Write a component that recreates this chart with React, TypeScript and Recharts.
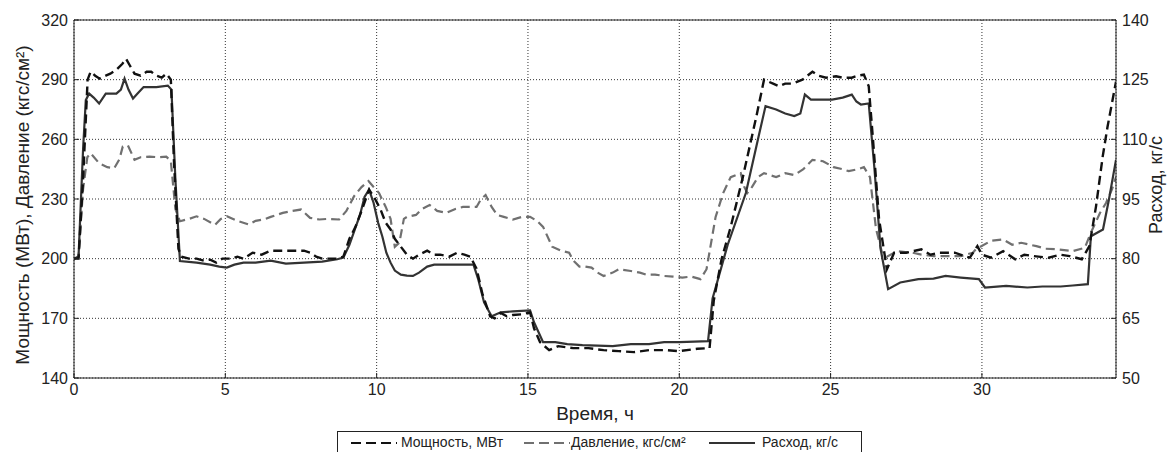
import React from 'react'
import { LineChart, Line, XAxis, YAxis, CartesianGrid, ReferenceLine } from 'recharts'

const timeTicks = [0, 5, 10, 15, 20, 25, 30]
const leftTicks = [140, 170, 200, 230, 260, 290, 320]
const rightTicks = [50, 65, 80, 95, 110, 125, 140]

// [время, ч ; мощность, МВт]
const powerPoints: [number, number][] = [
  [0, 200], [0.15, 200], [0.3, 240], [0.45, 290], [0.55, 294], [0.7, 292], [0.85, 290.5], [1.05, 292],
  [1.2, 293], [1.4, 295], [1.6, 298], [1.72, 300.5], [1.85, 297], [2.0, 293], [2.2, 292], [2.4, 294],
  [2.55, 294], [2.72, 292], [2.9, 291], [3.05, 293], [3.2, 290], [3.3, 250], [3.45, 205], [3.55, 201],
  [3.8, 200], [4.05, 200], [4.3, 199], [4.5, 199.5], [4.7, 198], [4.9, 200], [5.2, 200], [5.4, 201],
  [5.6, 200], [5.9, 203], [6.2, 202], [6.5, 204], [7.0, 204], [7.6, 204], [7.8, 203], [8.0, 201],
  [8.2, 200], [8.7, 200], [8.9, 201], [9.1, 210], [9.3, 216], [9.5, 224], [9.75, 234.7], [9.95, 230],
  [10.13, 224.7], [10.3, 218], [10.46, 214.7], [10.6, 210], [10.8, 206], [11.0, 202], [11.2, 200],
  [11.4, 202], [11.67, 204], [11.9, 202], [12.1, 202], [12.4, 201], [12.66, 203], [12.9, 202],
  [13.1, 201], [13.3, 195], [13.5, 182], [13.75, 171], [13.9, 170], [14.1, 172.7], [14.3, 171],
  [14.5, 171.7], [14.8, 172], [15.07, 173], [15.2, 165], [15.4, 158], [15.7, 154], [16.0, 156],
  [16.5, 155], [17.0, 155], [17.5, 154], [18.0, 153.5], [18.5, 153], [19.0, 154], [19.6, 154],
  [20.0, 153.5], [20.6, 154.7], [21.0, 155], [21.14, 179], [21.4, 200], [21.7, 216], [22.1, 241],
  [22.55, 271.7], [22.8, 290], [23.1, 288], [23.3, 286.7], [23.5, 288], [23.74, 288], [24.07, 290],
  [24.4, 294], [24.6, 292], [24.85, 291], [25.18, 291.7], [25.4, 291], [25.7, 291], [25.9, 292],
  [26.1, 292.5], [26.26, 286.7], [26.4, 260], [26.6, 220], [26.86, 194.7], [27.1, 203], [27.5, 203],
  [28.0, 204.7], [28.3, 202], [28.6, 203], [29.1, 203], [29.6, 200.5], [29.85, 206.3], [30.0, 202],
  [30.3, 200.5], [30.7, 203.8], [31.1, 199.7], [31.4, 202], [31.7, 201.3], [32.2, 200.5], [32.6, 202],
  [32.9, 201.3], [33.3, 199.7], [33.55, 206.3], [33.77, 226.3], [33.99, 251.3], [34.15, 266.3],
  [34.43, 289],
]

// [время, ч ; давление, кгс/см2]
const pressurePoints: [number, number][] = [
  [0, 200], [0.15, 201], [0.3, 235], [0.44, 251], [0.55, 253], [0.83, 248], [1.1, 246], [1.33, 245.5],
  [1.5, 250], [1.61, 256.3], [1.78, 257], [2.0, 249.7], [2.2, 251], [2.5, 251.3], [2.8, 251],
  [3.05, 251.3], [3.2, 249], [3.35, 225], [3.5, 218.8], [3.8, 220], [4.05, 221.3], [4.3, 220],
  [4.66, 217], [4.85, 220], [5.05, 221.3], [5.4, 219], [5.77, 217.2], [6.0, 219], [6.27, 219.7],
  [6.5, 221], [6.9, 223], [7.2, 224], [7.5, 224.7], [7.8, 220.5], [8.1, 219.7], [8.4, 220],
  [8.76, 219.7], [9.0, 224], [9.25, 231.3], [9.5, 236], [9.73, 239], [9.9, 236], [10.08, 233],
  [10.3, 226], [10.46, 220], [10.6, 206], [10.75, 208], [10.9, 220], [11.0, 221], [11.3, 222],
  [11.5, 225], [11.75, 227], [12.0, 224], [12.3, 223], [12.6, 225], [12.85, 226], [13.1, 226],
  [13.3, 226], [13.45, 230], [13.6, 232], [13.8, 226], [13.98, 222], [14.2, 221], [14.5, 219.7],
  [14.8, 221], [15.07, 221], [15.3, 219], [15.5, 216], [15.8, 206], [16.1, 204], [16.36, 203],
  [16.5, 199], [16.7, 196], [16.9, 196], [17.1, 195.5], [17.3, 193], [17.5, 191.3], [17.8, 193],
  [18.0, 194.7], [18.4, 193.8], [18.7, 193], [18.9, 192], [19.2, 192], [19.5, 191.3], [19.8, 191],
  [20.1, 190.5], [20.4, 191], [20.7, 189.7], [20.9, 194.7], [21.2, 221], [21.45, 233], [21.7, 241],
  [22.03, 243], [22.15, 236], [22.25, 233], [22.4, 236], [22.6, 241], [22.8, 243], [23.2, 241],
  [23.5, 243], [23.8, 242], [24.1, 245], [24.4, 249.7], [24.75, 249], [25.1, 246], [25.4, 245],
  [25.6, 244], [25.9, 245], [26.1, 246], [26.3, 241], [26.5, 215], [26.7, 203], [26.86, 201],
  [27.2, 203.8], [27.7, 203], [28.0, 202], [28.4, 201.3], [29.0, 201.3], [29.3, 201.3], [29.7, 203],
  [29.8, 204.7], [30.3, 209], [30.7, 209.7], [31.0, 207], [31.3, 208], [31.8, 206.3], [32.1, 205],
  [32.5, 204.7], [33.0, 203.8], [33.4, 205.5], [33.6, 213], [33.9, 223], [34.1, 228], [34.3, 235],
  [34.43, 241],
]

// [время, ч ; расход, кг/с] (правая ось)
const flowPoints: [number, number][] = [
  [0, 80], [0.15, 80.5], [0.3, 107.5], [0.39, 119.85], [0.5, 121.5], [0.65, 120.5], [0.83, 119],
  [1.05, 121.5], [1.4, 121.5], [1.55, 122.5], [1.67, 125.25], [1.8, 122.5], [1.95, 120.25],
  [2.1, 121.5], [2.3, 123.15], [2.72, 123.15], [3.1, 123.5], [3.22, 122.5], [3.35, 100], [3.5, 79.4],
  [4.05, 79], [4.5, 78.5], [4.8, 78], [5.05, 77.75], [5.3, 78.5], [5.6, 79], [6.0, 79], [6.5, 79.5],
  [7.0, 78.75], [7.6, 79], [8.2, 79.25], [8.7, 79.85], [8.9, 80.25], [9.1, 83.5], [9.28, 87.35],
  [9.45, 91], [9.6, 95.5], [9.75, 97.35], [9.9, 94], [10.05, 89], [10.19, 85.5], [10.32, 81.5],
  [10.46, 79], [10.6, 77], [10.8, 76], [11.0, 75.75], [11.2, 75.65], [11.4, 76.5], [11.67, 78],
  [11.9, 78.5], [12.2, 78.5], [12.6, 78.5], [13.2, 78.5], [13.35, 75], [13.55, 69], [13.8, 65.5],
  [14.1, 66.5], [14.5, 66.75], [15.07, 67], [15.2, 64], [15.5, 59], [15.9, 59], [16.3, 58.5],
  [16.8, 58.25], [17.3, 58.15], [17.8, 58], [18.4, 58.5], [19.0, 58.5], [19.5, 59], [20.0, 59],
  [20.5, 59.15], [20.95, 59.25], [21.1, 70], [21.6, 83.5], [22.2, 96.5], [22.6, 110], [22.85, 118.35],
  [23.2, 117.5], [23.5, 116.5], [23.8, 115.85], [24.0, 116.5], [24.15, 121.25], [24.35, 120],
  [24.6, 120], [25.05, 120], [25.4, 120.5], [25.7, 121.25], [25.85, 119.5], [26.0, 118.75],
  [26.26, 119], [26.45, 102.5], [26.65, 82.5], [26.9, 72.35], [27.3, 74], [27.9, 74.85], [28.4, 75],
  [28.8, 75.65], [29.3, 75.25], [29.9, 74.85], [30.1, 72.75], [30.8, 73.15], [31.5, 72.75],
  [32.0, 73], [32.6, 73], [33.0, 73.25], [33.5, 73.6], [33.6, 85.65], [34.0, 87.35], [34.2, 95],
  [34.43, 104.85],
]

const powerData = powerPoints.map(([t, v]) => ({ t, power: v }))
const pressureData = pressurePoints.map(([t, v]) => ({ t, pressure: v }))
const flowData = flowPoints.map(([t, v]) => ({ t, flow: v }))

const FONT = '"Liberation Sans", Arial, sans-serif'
const INK = '#222'

const LeftTitle = ({ viewBox }: any) => {
  const cx = viewBox.x + 22
  const cy = viewBox.y + viewBox.height / 2 + 6
  return (
    <text x={cx} y={cy} transform={`rotate(-90 ${cx} ${cy})`} textAnchor="middle"
      dominantBaseline="central" fontSize={19} fill={INK} fontFamily={FONT}>
      Мощность (МВт), Давление (кгс/см²)
    </text>
  )
}

const RightTitle = ({ viewBox }: any) => {
  const cx = viewBox.x + 40
  const cy = viewBox.y + viewBox.height / 2 - 14
  return (
    <text x={cx} y={cy} transform={`rotate(-90 ${cx} ${cy})`} textAnchor="middle"
      dominantBaseline="central" fontSize={18} fill={INK} fontFamily={FONT}>
      Расход, кг/с
    </text>
  )
}

const BottomTitle = ({ viewBox }: any) => (
  <text x={viewBox.x + viewBox.width / 2} y={viewBox.y + 35} textAnchor="middle"
    dominantBaseline="central" fontSize={19} fill={INK} fontFamily={FONT}>
    Время, ч
  </text>
)

const LegendSample = ({ color, dash, left }: { color: string; dash?: string; left: number }) => (
  <svg width={46} height={10} style={{ position: 'absolute', left, top: 6 }}>
    <line x1={0} y1={5} x2={46} y2={5} stroke={color} strokeWidth={2.2} strokeDasharray={dash} />
  </svg>
)

const legendText = (left: number): React.CSSProperties => ({
  position: 'absolute', left, top: 2, whiteSpace: 'nowrap',
})

const tickStyle = { fill: INK, fontSize: 16, fontFamily: FONT }

export default function App() {
  return (
    <div style={{ position: 'absolute', left: 0, top: 0, width: 1168, height: 452, background: '#fff', overflow: 'hidden' }}>
      <LineChart width={1168} height={452} margin={{ top: 20, right: 0, bottom: 34, left: 0 }}>
        <CartesianGrid yAxisId="left" stroke="#333" strokeDasharray="1 2" />
        <XAxis
          dataKey="t"
          type="number"
          domain={[0, 34.43]}
          ticks={timeTicks}
          allowDataOverflow
          height={40}
          tickSize={-5}
          tickMargin={11}
          tickLine={{ stroke: INK }}
          axisLine={{ stroke: INK }}
          tick={tickStyle}
          label={{ content: BottomTitle }}
        />
        <XAxis
          xAxisId="top"
          orientation="top"
          dataKey="t"
          type="number"
          domain={[0, 34.43]}
          ticks={timeTicks}
          allowDataOverflow
          height={0}
          tickSize={-5}
          tick={false}
          tickLine={{ stroke: INK }}
          axisLine={{ stroke: INK }}
        />
        <YAxis
          yAxisId="left"
          domain={[140, 320]}
          ticks={leftTicks}
          width={74}
          tickSize={-5}
          tickMargin={11}
          tickLine={{ stroke: INK }}
          axisLine={{ stroke: INK }}
          tick={tickStyle}
          label={{ content: LeftTitle }}
        />
        <YAxis
          yAxisId="right"
          orientation="right"
          domain={[50, 140]}
          ticks={rightTicks}
          width={52}
          tickSize={-5}
          tickMargin={11}
          tickLine={{ stroke: INK }}
          axisLine={{ stroke: INK }}
          tick={tickStyle}
          label={{ content: RightTitle }}
        />
        <ReferenceLine yAxisId="left" y={320} stroke={INK} />
        <Line data={pressureData} dataKey="pressure" yAxisId="left" type="linear" dot={false}
          stroke="#707070" strokeWidth={2.2} strokeDasharray="9 5" isAnimationActive={false} />
        <Line data={flowData} dataKey="flow" yAxisId="right" type="linear" dot={false}
          stroke="#333" strokeWidth={2.2} isAnimationActive={false} />
        <Line data={powerData} dataKey="power" yAxisId="left" type="linear" dot={false}
          stroke="#111" strokeWidth={2.4} strokeDasharray="9 5" isAnimationActive={false} />
      </LineChart>
      <div style={{
        position: 'absolute', left: 337, top: 431, width: 525, height: 30, border: `1px solid ${INK}`,
        boxSizing: 'border-box', background: '#fff', fontFamily: FONT, fontSize: 14, color: INK,
      }}>
        <LegendSample color="#111" dash="10 5" left={13} />
        <span style={legendText(63)}>Мощность, МВт</span>
        <LegendSample color="#707070" dash="10 5" left={186} />
        <span style={legendText(233)}>Давление, кгс/см²</span>
        <LegendSample color="#333" left={371} />
        <span style={legendText(424)}>Расход, кг/с</span>
      </div>
    </div>
  )
}
